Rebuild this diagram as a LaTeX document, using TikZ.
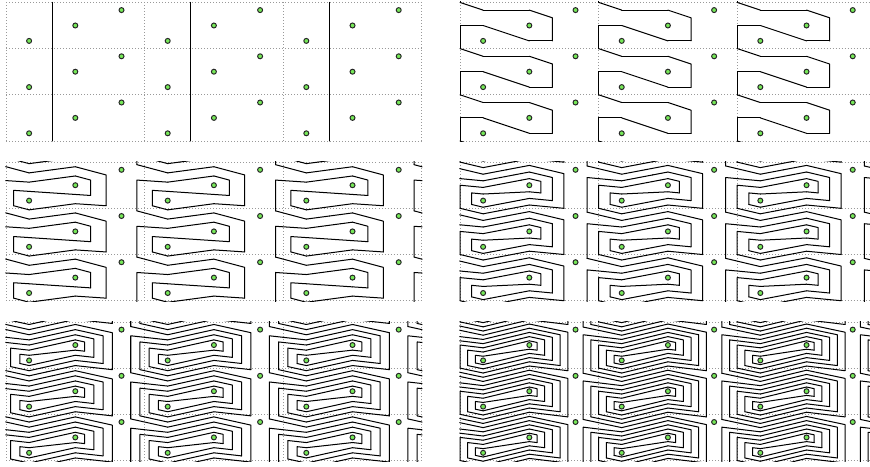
\documentclass[tikz,border=0pt]{standalone}
\usepackage{tikz}

\definecolor{ptgreen}{RGB}{118,232,88}
\tikzset{
  gridline/.style={black!40, line width=0.45pt, dash pattern=on 0.6pt off 1.25pt},
  strand/.style={black, line width=0.62pt, line cap=round, line join=round},
  marked/.style={fill=ptgreen, draw=black!85, line width=0.6pt},
}

% dotted frame of one panel, 9 x 3 cells
\newcommand{\panelgrid}{%
  \foreach \y in {0,...,3} \draw[gridline] (0,\y) -- (9,\y);
  \foreach \x in {0,3,6,9} \draw[gridline] (\x,0) -- (\x,3);
}

% the marked points a, b, c of each 3 x 1 cell
\newcommand{\panelpoints}{%
  \foreach \p in {0,1,2}{
    \foreach \m in {0,1,2}{
      \filldraw[marked] (3*\p+0.5,\m+1/6) circle (0.054)
        (3*\p+1.5,\m+1/2) circle (0.054)
        (3*\p+2.5,\m+5/6) circle (0.054);
    }
  }%
}

% curve after #1 half twists, drawn by its crossings with the triangulation
\newcommand{\twistcurve}[1]{%
  \pgfmathsetmacro{\nv}{2*#1+1}%
  \pgfmathsetmacro{\nd}{2*#1}%
  \pgfmathsetmacro{\nk}{#1+1}%
  \pgfmathtruncatemacro{\jmax}{2*#1-1}%
  \foreach \p in {-1,...,3}{
    \foreach \m in {-1,...,3}{
      \begin{scope}[shift={(3*\p,\m)}]
        \draw[strand] (0.5,1/6+1/\nv) -- (1,1/3) -- (1.5,1/2-1/\nv);
        \foreach \j in {1,...,\jmax}{
          \draw[strand] (0.5,7/6-\j/\nv) -- (0.5+\j/\nd,7/6-2/3*\j/\nd);
          \draw[strand] (1.5,1/2+\j/\nv) -- (1.5-\j/\nd,1/2+2/3*\j/\nd);
        }
        \foreach \i in {1,...,#1}{
          \draw[strand] (1.5,1/2+\i/\nv) -- (1.5+\i/\nk,1/2+\i/3/\nk)
            -- (1.5+\i/\nk,1/2-2/3*\i/\nk);
          \draw[strand] (1.5,3/2-\i/\nv) -- (1.5+\i/\nk,3/2-2/3*\i/\nk);
          \draw[strand] (0.5,1/6+\i/\nv) -- (0.5-\i/\nk,1/6+2/3*\i/\nk)
            -- (0.5-\i/\nk,1/6-\i/3/\nk);
          \draw[strand] (0.5,7/6-\i/\nv) -- (0.5-\i/\nk,7/6-\i/3/\nk);
        }
      \end{scope}
    }
  }%
}

\newcommand{\twistpanel}[3]{%
  \begin{scope}[shift={(#1,#2)}]
    \panelgrid
    \begin{scope}
      \clip (-0.012,-0.012) rectangle (9.012,3.012);
      \twistcurve{#3}
    \end{scope}
    \panelpoints
  \end{scope}%
}

\begin{document}
\begin{tikzpicture}
  \useasboundingbox (0,0) rectangle (18.831,10.087);

  % first panel: the straight curves
  \begin{scope}[shift={(0.130,7.035)}]
    \panelgrid
    \foreach \x in {1,4,7} \draw[strand] (\x,0) -- (\x,3);
    \panelpoints
  \end{scope}

  \twistpanel{9.957}{7.035}{1}
  \twistpanel{0.130}{3.578}{2}
  \twistpanel{9.957}{3.578}{3}
  \twistpanel{0.130}{0.119}{4}
  \twistpanel{9.957}{0.119}{5}
\end{tikzpicture}
\end{document}
